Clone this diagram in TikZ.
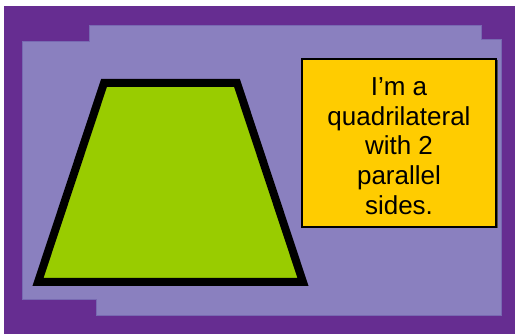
\documentclass[tikz,border=0pt]{standalone}
\usepackage{fontspec}
\setmainfont{Liberation Sans}
\usetikzlibrary{positioning,calc}
\definecolor{darkpurple}{RGB}{102,45,145}
\definecolor{lightpurple}{RGB}{138,128,191}
\definecolor{edgepurple}{RGB}{120,105,178}
\definecolor{shapegreen}{RGB}{153,204,0}
\definecolor{noteyellow}{RGB}{255,204,0}

\begin{document}
\begin{tikzpicture}[
    x=1pt, y=-1pt,
    panel/.style={fill=lightpurple, draw=edgepurple, line width=1pt},
    trapezium/.style={fill=shapegreen, draw=black, line width=8pt, miter limit=10},
    notebox/.style={rectangle, draw=black, line width=1.2pt, fill=noteyellow, inner sep=0pt, minimum width=194pt, minimum height=168pt},
    notetext/.style={align=center, inner sep=0pt, font=\fontsize{26}{30}\selectfont}
]
    \useasboundingbox (0,0) rectangle (515,334);

    % Background
    \fill[white] (0,0) rectangle (515,334);
    \fill[darkpurple] (4,6) rectangle (515,334);
    \draw[panel] (22,42) -- (89,42) -- (89,26) -- (481,26) -- (481,40) -- (501,40)
        -- (501,316) -- (96,316) -- (96,300) -- (22,300) -- cycle;

    % Trapezoid
    \coordinate (tl) at (104,83);
    \coordinate (tr) at (237,83);
    \coordinate (br) at (303,282);
    \coordinate (bl) at (38,282);
    \draw[trapezium] (tl) -- (tr) -- (br) -- (bl) -- cycle;

    % Note
    \fill[black!70] (303.5,60.5) rectangle (497.5,228.5);
    \node[notebox] (box) at (399,143) {};
    \begin{scope}
        \clip (box.north west) rectangle (496,216.5);
        \node[notetext, anchor=base] (note) at (399,215)
            {I’m a\\quadrilateral\\with 2\\parallel\\sides.};
    \end{scope}
\end{tikzpicture}
\end{document}
